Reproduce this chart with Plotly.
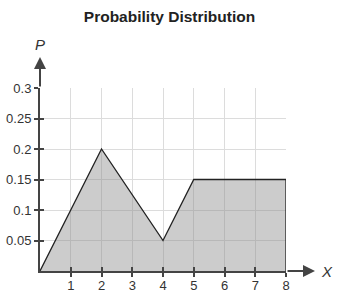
import plotly.graph_objects as go

x_vals = [0, 2, 4, 5, 8, 8]
p_vals = [0, 0.2, 0.05, 0.15, 0.15, 0]
x_ticks = [1, 2, 3, 4, 5, 6, 7, 8]
y_ticks = [0.05, 0.1, 0.15, 0.2, 0.25, 0.3]
y_tick_text = ["0.05", "0.1", "0.15", "0.2", "0.25", "0.3"]

FONT = "Liberation Sans, Arial, sans-serif"

fig = go.Figure()
fig.add_trace(go.Scatter(
    x=x_vals, y=p_vals, mode="lines", fill="tozeroy",
    fillcolor="rgba(139,139,139,0.44)",
    line=dict(color="#222222", width=1.3),
    cliponaxis=False, hoverinfo="skip", showlegend=False,
))
# invisible trace so the overlay axes (inner half of the crossing ticks) are drawn
fig.add_trace(go.Scatter(x=[x_vals[0]], y=[p_vals[0]], xaxis="x2", yaxis="y2",
                         mode="markers", marker=dict(opacity=0), hoverinfo="skip",
                         showlegend=False))

axis_font = dict(family=FONT, size=13, color="#333333")
fig.update_layout(
    width=339, height=300,
    margin=dict(l=40, r=53, t=88, b=29, autoexpand=False),
    paper_bgcolor="white", plot_bgcolor="white",
    title=dict(text="<b>Probability Distribution</b>", x=0.5, xref="container",
               y=0.945, yanchor="middle", automargin=False,
               font=dict(family=FONT, size=15.5, color="#222222")),
    xaxis=dict(range=[0, 8], tickvals=x_ticks, ticks="outside", ticklen=4, tickwidth=2,
               tickcolor="#444444", showgrid=True, gridcolor="#dcdcdc", gridwidth=1,
               showline=True, linecolor="#444444", linewidth=2, zeroline=False,
               tickfont=axis_font, fixedrange=True, automargin=False,
               ticklabelstandoff=-3),
    yaxis=dict(range=[0, 0.3], tickvals=y_ticks, ticktext=y_tick_text, ticks="outside",
               ticklen=4, tickwidth=2, tickcolor="#444444", showgrid=True,
               gridcolor="#dcdcdc", gridwidth=1, showline=True, linecolor="#444444",
               linewidth=2, zeroline=False, tickfont=axis_font, fixedrange=True,
               automargin=False),
    xaxis2=dict(range=[0, 8], tickvals=x_ticks, ticks="inside", ticklen=4, tickwidth=2,
                tickcolor="#444444", showgrid=False, showticklabels=False, showline=False,
                zeroline=False, overlaying="x", anchor="y", side="bottom", fixedrange=True,
                automargin=False),
    yaxis2=dict(range=[0, 0.3], tickvals=y_ticks, ticks="inside", ticklen=4, tickwidth=2,
                tickcolor="#444444", showgrid=False, showticklabels=False, showline=False,
                zeroline=False, overlaying="y", anchor="x", side="left", fixedrange=True,
                automargin=False),
    annotations=[
        dict(x=1.118, y=0, xref="paper", yref="paper", text="", showarrow=True,
             ax=-29, ay=0, arrowhead=2, arrowsize=1.2, arrowwidth=2, arrowcolor="#444444"),
        dict(x=0, y=1.169, xref="paper", yref="paper", text="", showarrow=True,
             ax=0, ay=31, arrowhead=2, arrowsize=1.2, arrowwidth=2, arrowcolor="#444444"),
        dict(x=1.167, y=0, xref="paper", yref="paper", text="<i>X</i>", showarrow=False,
             xanchor="center", yanchor="middle",
             font=dict(family=FONT, size=15, color="#333333")),
        dict(x=0, y=1.24, xref="paper", yref="paper", text="<i>P</i>", showarrow=False,
             xanchor="center", yanchor="middle",
             font=dict(family=FONT, size=15, color="#333333")),
    ],
)

fig.write_html("out.html")
